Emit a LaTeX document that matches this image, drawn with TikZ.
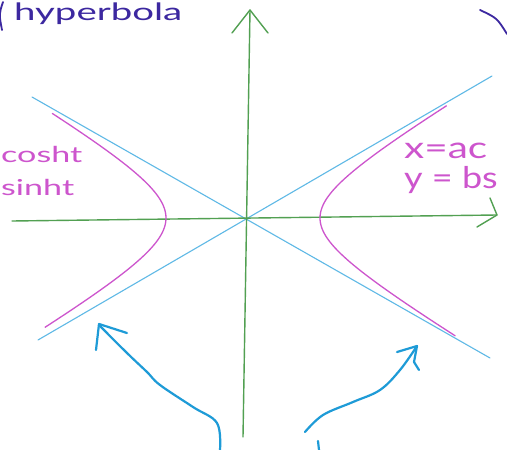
\documentclass[tikz,border=0pt]{standalone}
\usepackage{fontspec}
\setmainfont{Lato}
\definecolor{axisgreen}{RGB}{82,160,82}
\definecolor{asymblue}{RGB}{95,185,230}
\definecolor{hypmag}{RGB}{205,85,205}
\definecolor{arrblue}{RGB}{30,155,215}
\definecolor{inkblue}{RGB}{60,40,160}
\begin{document}
\begin{tikzpicture}[x=1pt,y=-1pt,
  axisline/.style={draw=axisgreen,line width=1.4pt,line cap=round,line join=round},
  asym/.style={draw=asymblue,line width=1.1pt,line cap=round},
  hyp/.style={draw=hypmag,line width=1.3pt,line cap=round},
  arrline/.style={draw=arrblue,line width=2.2pt,line cap=round,line join=round},
  ink/.style={draw=inkblue,line width=1.8pt,line cap=round},
  smalllab/.style={text=hypmag,font=\fontsize{22}{24}\selectfont,inner sep=0pt},
  biglab/.style={text=hypmag,font=\fontsize{30}{32}\selectfont,inner sep=0pt},
  titlelab/.style={text=inkblue,font=\fontsize{24}{26}\selectfont,inner sep=0pt}]
\useasboundingbox (0,0) rectangle (507,450);
\clip (0,0) rectangle (507,450);
\fill[white] (0,0) rectangle (507,450);

% asymptotes
\draw[asym] (32,97) -- (490,358);
\draw[asym] (38,340) -- (492,76);

% axes
\draw[axisline] (12,221) -- (497,215);
\draw[axisline] (490,198) -- (497,215) -- (477,227);
\draw[axisline] (243,437) -- (250,10);
\draw[axisline] (232,33) -- (250,10) -- (268,33);

% hyperbola branches
\draw[hyp,domain=-1.69:1.645,samples=60,variable=\t] plot ({245+75*cosh(\t)},{218-45*sinh(\t)});
\draw[hyp,domain=-1.58:1.54,samples=60,variable=\t] plot ({245-79*cosh(\t)},{218-47*sinh(\t)});

% labels
\node[smalllab,anchor=base west] (lc) at (1,162) {\scalebox{1.55}[1]{cosht}};
\node[smalllab,anchor=base west] (ls) at (1,195) {\scalebox{1.55}[1]{sinht}};
\node[biglab,anchor=base west] (rx) at (404,158) {\scalebox{1.35}[1]{x=ac}};
\node[biglab,anchor=base west] (ry) at (404,188) {\scalebox{1.2}[1]{y = bs}};
\node[titlelab,anchor=base west] (tt) at (14,20) {\scalebox{1.6}[1]{hyperbola}};

% brackets
\draw[ink] (3,2) .. controls (-1,14) .. (2,30);
\draw[ink] (480,10) .. controls (497,18) .. (507,34);

% pointing arrows
\draw[arrline] plot[smooth,tension=0.6] coordinates {(220,450) (217,423) (193,407) (160,385) (147,372) (127,353) (99,325)};
\draw[arrline] (127,333) -- (99,324) -- (96,350);
\draw[arrline] plot[smooth,tension=0.6] coordinates {(305,432) (323,415) (353,402) (380,390) (400,370) (417,346)};
\draw[arrline] (397,352) -- (417,346) -- (414,362) -- (419,370);
\draw[arrline] (318,441) -- (319,450);
\end{tikzpicture}
\end{document}
